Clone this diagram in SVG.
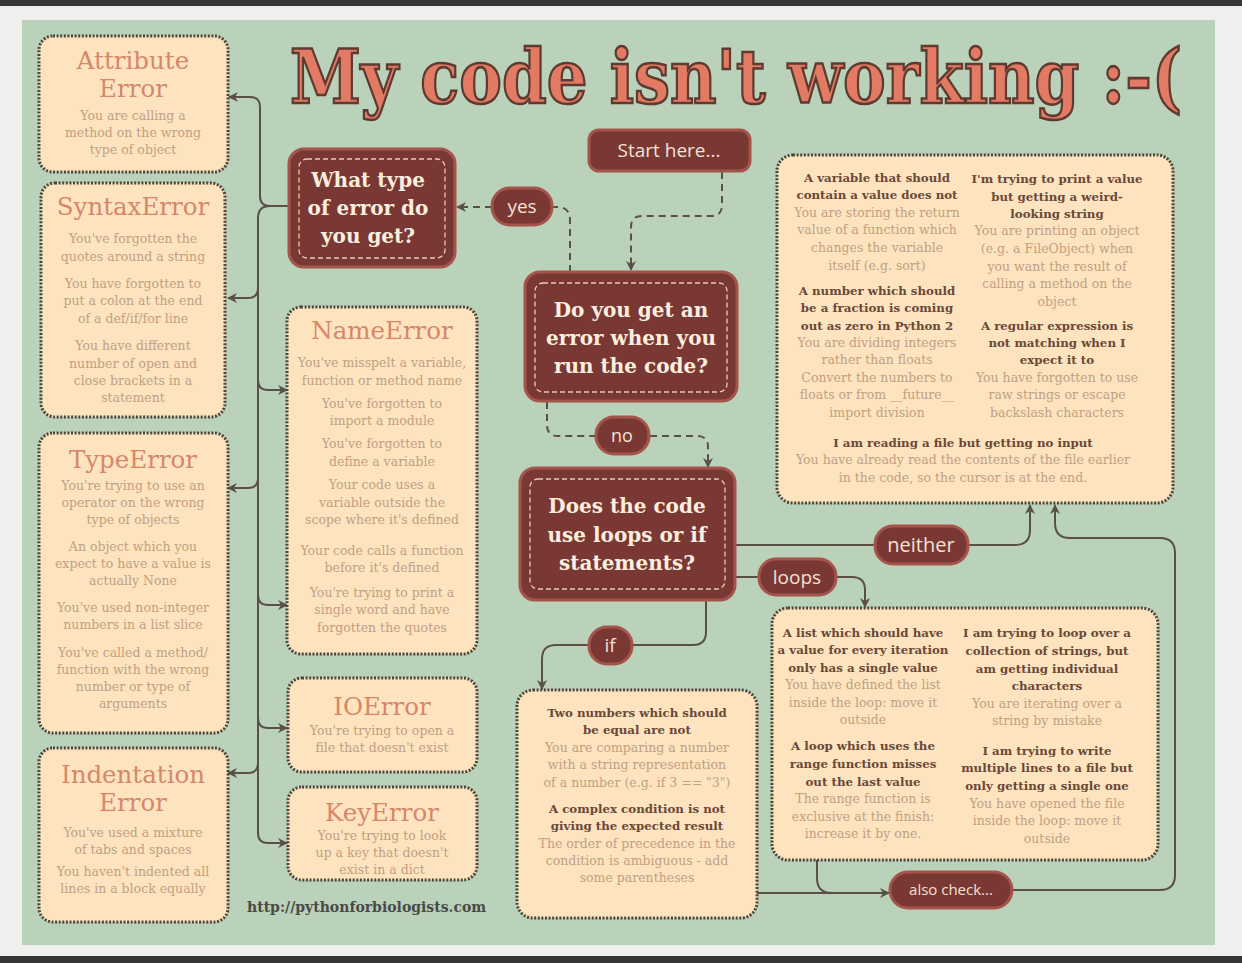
<svg xmlns="http://www.w3.org/2000/svg" width="1242" height="963" viewBox="0 0 1242 963">
<style>
.card{fill:#fde4bf;stroke:#4e443a;stroke-width:3;stroke-dasharray:2 1.6}
.ttl{font-family:"DejaVu Serif",serif;font-size:24.5px;fill:#d6876a;text-anchor:middle}
.bd{font-family:"DejaVu Serif",serif;font-size:12.5px;fill:#c29f82;text-anchor:middle}
.hd{font-family:"DejaVu Serif",serif;font-size:11.8px;font-weight:bold;fill:#6b4838;text-anchor:middle}
.dk{fill:#7a3835;stroke:#a5544c;stroke-width:3}
.dki{fill:none;stroke:#e9cdb6;stroke-width:1.3;stroke-dasharray:5 3}
.q{font-family:"DejaVu Serif",serif;font-weight:bold;font-size:20px;fill:#fbeede;text-anchor:middle}
.pl{font-family:"Open Sans",sans-serif;fill:#f3e1d3;text-anchor:middle}
.cn{fill:none;stroke:#5b5048;stroke-width:2}
.dash{stroke-dasharray:7 5}
</style>
<defs>
<marker id="ah" viewBox="0 0 10 10" refX="9" refY="5" markerWidth="11" markerHeight="10" markerUnits="userSpaceOnUse" orient="auto">
<path d="M0,0 L10,5 L0,10 L3,5 z" fill="#5b5048"/>
</marker>
</defs>
<rect x="0" y="0" width="1242" height="963" fill="#efefed"/>
<rect x="0" y="0" width="1242" height="6" fill="#363636"/>
<rect x="0" y="956" width="1242" height="7" fill="#363636"/>
<rect x="22" y="20" width="1193" height="925" fill="#b9d2b9"/>

<text transform="translate(290,103) scale(1,1.17)" x="0" y="0" font-family="DejaVu Serif, serif" font-weight="bold" font-size="64" fill="#e37a63" stroke="#5e3a30" stroke-width="2.2">My code isn't working :-(</text>

<g id="connectors">
<path class="cn" d="M290 206 H270 Q260 206 260 196 V107 Q260 97 250 97 H229" marker-end="url(#ah)"/>
<path class="cn" d="M270 206 Q258 206 258 218 V833 Q258 843 268 843 H287" marker-end="url(#ah)"/>
<path class="cn" d="M258 288 Q258 298 248 298 H228" marker-end="url(#ah)"/>
<path class="cn" d="M258 380 Q258 390 268 390 H287" marker-end="url(#ah)"/>
<path class="cn" d="M258 478 Q258 488 248 488 H228" marker-end="url(#ah)"/>
<path class="cn" d="M258 595 Q258 605 268 605 H287" marker-end="url(#ah)"/>
<path class="cn" d="M258 718 Q258 728 268 728 H287" marker-end="url(#ah)"/>
<path class="cn" d="M258 763 Q258 773 248 773 H228" marker-end="url(#ah)"/>

<path class="cn dash" d="M722 172 V205 Q722 216 711 216 H642 Q631 216 631 227 V270" marker-end="url(#ah)"/>
<path class="cn dash" d="M570 272 V220 Q570 207 557 207 H552"/>
<path class="cn dash" d="M492 207 H457" marker-end="url(#ah)"/>
<path class="cn dash" d="M547 402 V425 Q547 436 558 436 H595"/>
<path class="cn dash" d="M650 436 H697 Q708 436 708 447 V467" marker-end="url(#ah)"/>

<path class="cn" d="M735 545 H875"/>
<path class="cn" d="M968 545 H1015 Q1030 545 1030 530 V505" marker-end="url(#ah)"/>
<path class="cn" d="M735 577 H758"/>
<path class="cn" d="M837 577 H852 Q865 577 865 590 V607" marker-end="url(#ah)"/>
<path class="cn" d="M706 600 V632 Q706 645 693 645 H632"/>
<path class="cn" d="M588 645 H556 Q542 645 542 659 V689" marker-end="url(#ah)"/>
<path class="cn" d="M817 860 V878 Q817 893 832 893 H840"/>
<path class="cn" d="M757 893 H889" marker-end="url(#ah)"/>
<path class="cn" d="M1012 890 H1160 Q1175 890 1175 875 V553 Q1175 538 1160 538 H1070 Q1055 538 1055 523 V505" marker-end="url(#ah)"/>
</g>

<g id="attribute-error">
<rect class="card" x="39" y="36" width="189" height="136" rx="14"/>
<text class="ttl" x="133" y="69">Attribute</text>
<text class="ttl" x="133" y="97">Error</text>
<text class="bd" x="133" y="120">You are calling a</text>
<text class="bd" x="133" y="137">method on the wrong</text>
<text class="bd" x="133" y="154">type of object</text>
</g>

<g id="syntax-error">
<rect class="card" x="41" y="183" width="184" height="234" rx="14"/>
<text class="ttl" x="133" y="215">SyntaxError</text>
<text class="bd" x="133" y="243">You've forgotten the</text>
<text class="bd" x="133" y="261">quotes around a string</text>
<text class="bd" x="133" y="288">You have forgotten to</text>
<text class="bd" x="133" y="305">put a colon at the end</text>
<text class="bd" x="133" y="323">of a def/if/for line</text>
<text class="bd" x="133" y="350">You have different</text>
<text class="bd" x="133" y="368">number of open and</text>
<text class="bd" x="133" y="385">close brackets in a</text>
<text class="bd" x="133" y="402">statement</text>
</g>

<g id="type-error">
<rect class="card" x="39" y="433" width="189" height="300" rx="14"/>
<text class="ttl" x="133" y="468">TypeError</text>
<text class="bd" x="133" y="490">You're trying to use an</text>
<text class="bd" x="133" y="507">operator on the wrong</text>
<text class="bd" x="133" y="524">type of objects</text>
<text class="bd" x="133" y="551">An object which you</text>
<text class="bd" x="133" y="568">expect to have a value is</text>
<text class="bd" x="133" y="585">actually None</text>
<text class="bd" x="133" y="612">You've used non-integer</text>
<text class="bd" x="133" y="629">numbers in a list slice</text>
<text class="bd" x="133" y="657">You've called a method/</text>
<text class="bd" x="133" y="674">function with the wrong</text>
<text class="bd" x="133" y="691">number or type of</text>
<text class="bd" x="133" y="708">arguments</text>
</g>

<g id="indentation-error">
<rect class="card" x="39" y="748" width="189" height="174" rx="14"/>
<text class="ttl" x="133" y="783">Indentation</text>
<text class="ttl" x="133" y="811">Error</text>
<text class="bd" x="133" y="837">You've used a mixture</text>
<text class="bd" x="133" y="854">of tabs and spaces</text>
<text class="bd" x="133" y="876">You haven't indented all</text>
<text class="bd" x="133" y="893">lines in a block equally</text>
</g>

<g id="name-error">
<rect class="card" x="287" y="307" width="190" height="347" rx="14"/>
<text class="ttl" x="382" y="339">NameError</text>
<text class="bd" x="382" y="367">You've misspelt a variable,</text>
<text class="bd" x="382" y="385">function or method name</text>
<text class="bd" x="382" y="408">You've forgotten to</text>
<text class="bd" x="382" y="425">import a module</text>
<text class="bd" x="382" y="448">You've forgotten to</text>
<text class="bd" x="382" y="466">define a variable</text>
<text class="bd" x="382" y="489">Your code uses a</text>
<text class="bd" x="382" y="507">variable outside the</text>
<text class="bd" x="382" y="524">scope where it's defined</text>
<text class="bd" x="382" y="555">Your code calls a function</text>
<text class="bd" x="382" y="572">before it's defined</text>
<text class="bd" x="382" y="597">You're trying to print a</text>
<text class="bd" x="382" y="614">single word and have</text>
<text class="bd" x="382" y="632">forgotten the quotes</text>
</g>

<g id="io-error">
<rect class="card" x="288" y="678" width="189" height="94" rx="14"/>
<text class="ttl" x="382" y="715">IOError</text>
<text class="bd" x="382" y="735">You're trying to open a</text>
<text class="bd" x="382" y="752">file that doesn't exist</text>
</g>

<g id="key-error">
<rect class="card" x="288" y="787" width="189" height="93" rx="14"/>
<text class="ttl" x="382" y="821">KeyError</text>
<text class="bd" x="382" y="840">You're trying to look</text>
<text class="bd" x="382" y="857">up a key that doesn't</text>
<text class="bd" x="382" y="874">exist in a dict</text>
</g>

<text x="247" y="912" font-family="DejaVu Serif, serif" font-weight="bold" font-size="14" fill="#4a4a48">http://pythonforbiologists.com</text>

<g id="what-type">
<rect class="dk" x="289" y="149" width="166" height="118" rx="15"/>
<rect class="dki" x="299" y="159" width="146" height="99" rx="8"/>
<text class="q" x="368" y="187">What type</text>
<text class="q" x="368" y="215">of error  do</text>
<text class="q" x="368" y="243">you get?</text>
</g>

<g id="start-here">
<rect class="dk" x="589" y="130" width="161" height="41" rx="10"/>
<text class="pl" x="669" y="157" font-size="19">Start here...</text>
</g>

<g id="yes">
<rect class="dk" x="492" y="188" width="60" height="37" rx="18"/>
<text class="pl" x="522" y="213" font-size="19">yes</text>
</g>

<g id="do-you-get-error">
<rect class="dk" x="525" y="272" width="212" height="129" rx="15"/>
<rect class="dki" x="535" y="283" width="192" height="109" rx="8"/>
<text class="q" x="631" y="317">Do you get an</text>
<text class="q" x="631" y="345">error when you</text>
<text class="q" x="631" y="373">run the code?</text>
</g>

<g id="no">
<rect class="dk" x="596" y="417" width="53" height="37" rx="18"/>
<text class="pl" x="622" y="442" font-size="18">no</text>
</g>

<g id="loops-or-if">
<rect class="dk" x="520" y="468" width="215" height="132" rx="15"/>
<rect class="dki" x="530" y="479" width="195" height="110" rx="8"/>
<text class="q" x="627" y="513">Does the code</text>
<text class="q" x="627" y="542">use loops or if</text>
<text class="q" x="627" y="570">statements?</text>
</g>

<g id="neither">
<rect class="dk" x="875" y="526" width="93" height="38" rx="18"/>
<text class="pl" x="921" y="552" font-size="20">neither</text>
</g>

<g id="loops">
<rect class="dk" x="759" y="559" width="77" height="36" rx="17"/>
<text class="pl" x="797" y="584" font-size="19">loops</text>
</g>

<g id="if">
<rect class="dk" x="589" y="627" width="43" height="37" rx="18"/>
<text class="pl" x="610" y="652" font-size="19">if</text>
</g>

<g id="also-check">
<rect class="dk" x="890" y="872" width="122" height="36" rx="18"/>
<text class="pl" x="951" y="895" font-size="15">also check...</text>
</g>

<g id="no-error-card">
<rect class="card" x="777" y="155" width="396" height="348" rx="16"/>
<text class="hd" x="877" y="182">A variable that should</text>
<text class="hd" x="877" y="199">contain a value does not</text>
<text class="bd" x="877" y="217">You are storing the return</text>
<text class="bd" x="877" y="234">value of a function which</text>
<text class="bd" x="877" y="252">changes the variable</text>
<text class="bd" x="877" y="270">itself (e.g. sort)</text>
<text class="hd" x="877" y="295">A number which should</text>
<text class="hd" x="877" y="312">be a fraction is coming</text>
<text class="hd" x="877" y="330">out as zero in Python 2</text>
<text class="bd" x="877" y="347">You are dividing integers</text>
<text class="bd" x="877" y="364">rather than floats</text>
<text class="bd" x="877" y="382">Convert the numbers to</text>
<text class="bd" x="877" y="399">floats or from __future__</text>
<text class="bd" x="877" y="417">import division</text>
<text class="hd" x="1057" y="183">I'm trying to print a value</text>
<text class="hd" x="1057" y="201">but getting a weird-</text>
<text class="hd" x="1057" y="218">looking string</text>
<text class="bd" x="1057" y="235">You are printing an object</text>
<text class="bd" x="1057" y="253">(e.g. a FileObject) when</text>
<text class="bd" x="1057" y="271">you want the result of</text>
<text class="bd" x="1057" y="288">calling a method on the</text>
<text class="bd" x="1057" y="306">object</text>
<text class="hd" x="1057" y="330">A regular expression is</text>
<text class="hd" x="1057" y="347">not matching when I</text>
<text class="hd" x="1057" y="364">expect it to</text>
<text class="bd" x="1057" y="382">You have forgotten to use</text>
<text class="bd" x="1057" y="399">raw strings or escape</text>
<text class="bd" x="1057" y="417">backslash characters</text>
<text class="hd" x="963" y="447">I am reading a file but getting no input</text>
<text class="bd" x="963" y="464">You have already read the contents of the file earlier</text>
<text class="bd" x="963" y="482">in the code, so the cursor is at the end.</text>
</g>

<g id="loops-card">
<rect class="card" x="772" y="608" width="386" height="252" rx="16"/>
<text class="hd" x="863" y="637">A list which should have</text>
<text class="hd" x="863" y="654">a value for every iteration</text>
<text class="hd" x="863" y="672">only has a single value</text>
<text class="bd" x="863" y="689">You have defined the list</text>
<text class="bd" x="863" y="707">inside the loop: move it</text>
<text class="bd" x="863" y="724">outside</text>
<text class="hd" x="863" y="750">A loop which uses the</text>
<text class="hd" x="863" y="768">range function misses</text>
<text class="hd" x="863" y="786">out the last value</text>
<text class="bd" x="863" y="803">The range function is</text>
<text class="bd" x="863" y="821">exclusive at the finish:</text>
<text class="bd" x="863" y="838">increase it by one.</text>
<text class="hd" x="1047" y="637">I am trying to loop over a</text>
<text class="hd" x="1047" y="655">collection of strings, but</text>
<text class="hd" x="1047" y="673">am getting individual</text>
<text class="hd" x="1047" y="690">characters</text>
<text class="bd" x="1047" y="708">You are iterating over a</text>
<text class="bd" x="1047" y="725">string by mistake</text>
<text class="hd" x="1047" y="755">I am trying to write</text>
<text class="hd" x="1047" y="772">multiple lines to a file but</text>
<text class="hd" x="1047" y="790">only getting a single one</text>
<text class="bd" x="1047" y="808">You have opened the file</text>
<text class="bd" x="1047" y="825">inside the loop: move it</text>
<text class="bd" x="1047" y="843">outside</text>
</g>

<g id="if-card">
<rect class="card" x="517" y="690" width="240" height="228" rx="16"/>
<text class="hd" x="637" y="717">Two numbers which should</text>
<text class="hd" x="637" y="734">be equal are not</text>
<text class="bd" x="637" y="752">You are comparing a number</text>
<text class="bd" x="637" y="769">with a string representation</text>
<text class="bd" x="637" y="787">of a number (e.g. if 3 == "3")</text>
<text class="hd" x="637" y="813">A complex condition is not</text>
<text class="hd" x="637" y="830">giving the expected result</text>
<text class="bd" x="637" y="848">The order of precedence in the</text>
<text class="bd" x="637" y="865">condition is ambiguous - add</text>
<text class="bd" x="637" y="882">some parentheses</text>
</g>
</svg>
